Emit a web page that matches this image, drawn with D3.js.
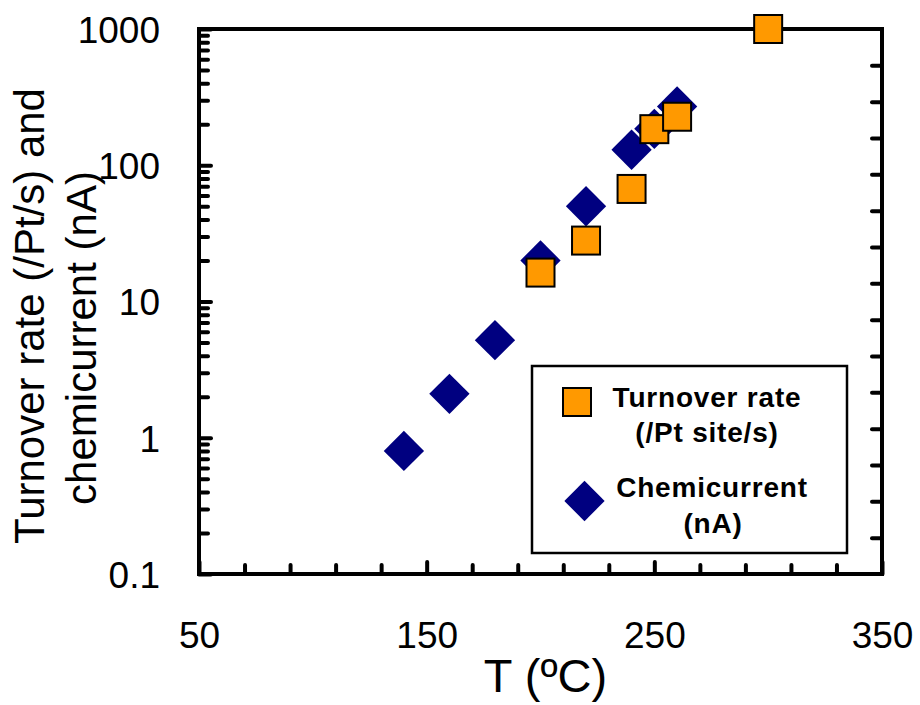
<!DOCTYPE html>
<html>
<head>
<meta charset="utf-8">
<script src="https://cdn.jsdelivr.net/npm/d3@7"></script>
<style>
  html, body { margin: 0; padding: 0; background: #fff; }
  svg { display: block; font-family: "Liberation Sans", Arial, sans-serif; }
</style>
</head>
<body>
<svg id="chart" width="920" height="705"></svg>
<script>
// ---- data ----
const chemT = [140, 160, 180, 200, 220, 240, 250, 260];
const chemValues = [0.8, 2.1, 5.2, 20, 50, 130, 185, 270];
const torT = [200, 220, 240, 250, 260, 300];
const torValues = [16.3, 28, 67, 184, 227, 1000];
const xTickLabels = [50, 150, 250, 350];
const yTickLabels = ["0.1", "1", "10", "100", "1000"];
const yTickValues = [0.1, 1, 10, 100, 1000];
const seriesNames = [["Turnover rate", "(/Pt site/s)"], ["Chemicurrent", "(nA)"]];
const xTitle = "T (ºC)";
const yTitle = ["Turnover rate (/Pt/s) and", "chemicurrent (nA)"];

const svg = d3.select("#chart");
const L = 199, R = 882, T = 29, B = 574;
const x = d3.scaleLinear().domain([50, 350]).range([L, R]);
const y = d3.scaleLog().domain([0.1, 1000]).range([B, T]);

// minor log ticks
const yMinor = [];
for (let d = 0.1; d < 1000; d *= 10) {
  for (let k = 2; k <= 9; k++) yMinor.push(+(d * k).toPrecision(3));
}
// x ticks every 20
const xMinor = d3.range(70, 350, 20).filter(v => (v - 50) % 100 !== 0);

const tickStyle = g => {
  g.select(".domain").remove();
  g.selectAll("line").attr("stroke", "#000").attr("stroke-width", 4).attr("stroke-linecap", "round");
};

// left axis ticks
svg.append("g").attr("transform", `translate(${L},0)`)
  .call(d3.axisLeft(y).tickValues(yMinor).tickFormat("").tickSizeInner(-9).tickSizeOuter(0))
  .call(tickStyle);
const yMaj = svg.append("g").attr("transform", `translate(${L},0)`)
  .call(d3.axisLeft(y).tickValues(yTickValues).tickFormat((d, i) => yTickLabels[i]).tickSizeInner(-12).tickSizeOuter(0).tickPadding(39))
  .call(tickStyle);
yMaj.selectAll("text").attr("font-size", 37).attr("fill", "#000")
  .attr("font-family", "Liberation Sans, Arial, sans-serif").attr("dy", "0.36em");

// right axis uniform ticks
const yr = d3.scaleLinear().domain([0, 15]).range([B, T]);
svg.append("g").attr("transform", `translate(${R},0)`)
  .call(d3.axisRight(yr).tickValues(d3.range(1, 15)).tickFormat("").tickSizeInner(-10).tickSizeOuter(0))
  .call(tickStyle);

// bottom axis
svg.append("g").attr("transform", `translate(0,${B})`)
  .call(d3.axisBottom(x).tickValues(xMinor).tickFormat("").tickSizeInner(-9).tickSizeOuter(0))
  .call(tickStyle);
const xMaj = svg.append("g").attr("transform", `translate(0,${B})`)
  .call(d3.axisBottom(x).tickValues(xTickLabels).tickFormat(d => d).tickSizeInner(-12).tickSizeOuter(0).tickPadding(48))
  .call(tickStyle);
xMaj.selectAll("text").attr("font-size", 37).attr("fill", "#000")
  .attr("font-family", "Liberation Sans, Arial, sans-serif").attr("dy", "0.71em");

// frame
svg.append("rect").attr("x", L).attr("y", T).attr("width", R - L).attr("height", B - T)
  .attr("fill", "none").attr("stroke", "#000").attr("stroke-width", 4);

// axis titles
svg.append("text").attr("x", (L + R) / 2 + 5).attr("y", 692).attr("text-anchor", "middle")
  .attr("font-size", 47).text(xTitle);
yTitle.forEach((t, i) => {
  const cx = i === 0 ? 44 : 96;
  const cy = i === 0 ? 316 : 338;
  svg.append("text").attr("transform", `translate(${cx},${cy}) rotate(-90)`)
    .attr("text-anchor", "middle").attr("font-size", 42).text(t);
});

// markers
const diamond = d3.symbol().type(d3.symbolSquare).size(28.5 * 28.5);
svg.append("g").selectAll("path").data(chemT).join("path")
  .attr("d", diamond)
  .attr("transform", (d, i) => `translate(${x(d)},${y(chemValues[i])}) rotate(45)`)
  .attr("fill", "#000080");
const sq = 28;
svg.append("g").selectAll("rect").data(torT).join("rect")
  .attr("x", d => x(d) - sq / 2)
  .attr("y", (d, i) => y(torValues[i]) - sq / 2)
  .attr("width", sq).attr("height", sq)
  .attr("fill", "#FF9900").attr("stroke", "#000").attr("stroke-width", 2);

// legend
const lg = svg.append("g");
lg.append("rect").attr("x", 532).attr("y", 366).attr("width", 315).attr("height", 187)
  .attr("fill", "#fff").attr("stroke", "#000").attr("stroke-width", 2.5);
lg.append("rect").attr("x", 577 - sq / 2).attr("y", 402 - sq / 2).attr("width", sq).attr("height", sq)
  .attr("fill", "#FF9900").attr("stroke", "#000").attr("stroke-width", 2);
lg.append("path").attr("d", diamond).attr("transform", "translate(584.5,501) rotate(45)").attr("fill", "#000080");
const legText = [
  { t: seriesNames[0][0], x: 707, y: 407 },
  { t: seriesNames[0][1], x: 707, y: 442 },
  { t: seriesNames[1][0], x: 712, y: 497 },
  { t: seriesNames[1][1], x: 713, y: 533 }
];
lg.selectAll("text.leg").data(legText).join("text").attr("class", "leg")
  .attr("x", d => d.x).attr("y", d => d.y).attr("text-anchor", "middle")
  .attr("font-size", 28).attr("font-weight", "bold").attr("letter-spacing", 0.8)
  .text(d => d.t);
</script>
</body>
</html>
